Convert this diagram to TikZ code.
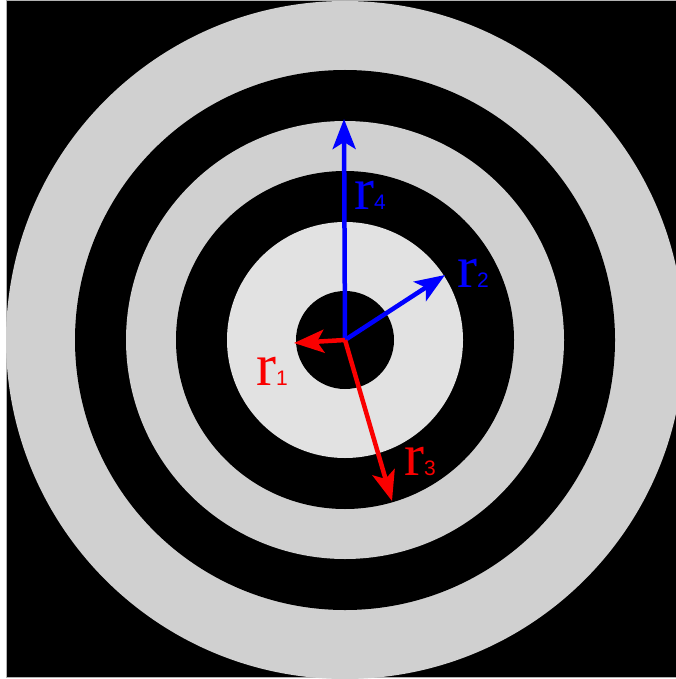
\documentclass[tikz,border=0pt]{standalone}
\usepackage{fontspec}
\setmainfont{Liberation Serif}
\newfontfamily\subfont{Liberation Sans}
\usetikzlibrary{arrows.meta}

\definecolor{ringgray}{RGB}{208,208,208}
\definecolor{ringlight}{RGB}{226,226,226}
\definecolor{rblue}{RGB}{0,0,255}
\definecolor{rred}{RGB}{250,0,0}

\begin{document}
\begin{tikzpicture}[
    x=1pt, y=-1pt,
    rarrow/.style = {line width=4.5pt, -{Stealth[length=30pt, width=23pt, inset=7pt]}},
    rlabel/.style = {inner sep=0pt, anchor=base west, font=\fontsize{60}{62}\selectfont}
]
\useasboundingbox (0,0) rectangle (676,679);

% background square
\fill[black, draw=gray!60, line width=1pt] (6.5,0.5) rectangle (676,677);

% rings, from outside in
\coordinate (o) at (345,340);
\fill[ringgray]  (o) circle[radius=339pt];
\fill[black]     (o) circle[radius=270pt];
\fill[ringgray]  (o) circle[radius=219pt];
\fill[black]     (o) circle[radius=169pt];
\fill[ringlight] (o) circle[radius=118pt];
\fill[black]     (o) circle[radius=49pt];

% arrow tips
\coordinate (t1) at (294,343);
\coordinate (t2) at (445,275);
\coordinate (t3) at (392,501);
\coordinate (t4) at (344,119);

% radii
\draw[rarrow, rblue] (o) -- (t4);
\draw[rarrow, rblue] (o) -- (t2);
\draw[rarrow, rred]  (o) -- (t1);
\draw[rarrow, rred]  (o) -- (t3);

% labels
\node[rlabel, text=rblue] (l4) at (354,209) {r\subfont\fontsize{21}{22}\selectfont 4};
\node[rlabel, text=rblue] (l2) at (457,287) {r\subfont\fontsize{21}{22}\selectfont 2};
\node[rlabel, text=rred]  (l1) at (256,385) {r\subfont\fontsize{21}{22}\selectfont 1};
\node[rlabel, text=rred]  (l3) at (404,475) {r\subfont\fontsize{21}{22}\selectfont 3};

\end{tikzpicture}
\end{document}
